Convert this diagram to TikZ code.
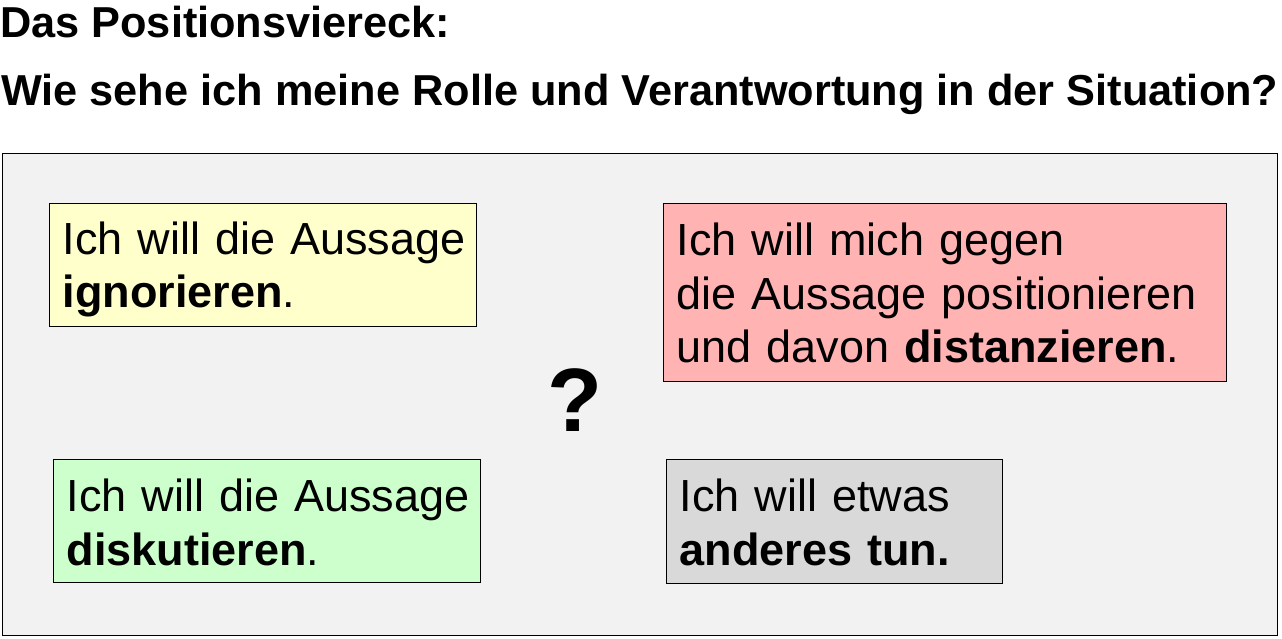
\documentclass[tikz,border=0pt]{standalone}
\usepackage{fontspec}
\setmainfont{Liberation Sans}
\newfontfamily\answerfamily{Liberation Sans}[WordSpace=0.85]
\definecolor{bgGrey}{HTML}{F2F2F2}
\definecolor{ignYellow}{HTML}{FFFFCC}
\definecolor{disRed}{HTML}{FFB3B3}
\definecolor{disGreen}{HTML}{CCFFCC}
\definecolor{othGrey}{HTML}{D9D9D9}
\begin{document}
\begin{tikzpicture}[x=1pt,y=-1pt,
    heading/.style={anchor=base west,inner sep=0pt,font=\fontsize{43.3}{52}\selectfont\bfseries},
    answer/.style={draw,line width=1.3pt,anchor=north west,
        inner xsep=13pt,inner ysep=0pt,font=\answerfamily\fontsize{45}{53.5}\selectfont}]
            \useasboundingbox (0,0) rectangle (1282,638);
            \node[heading] (title) at (0,37) {Das Positionsviereck:};
            \node[heading] (question) at (1,105) {Wie sehe ich meine Rolle und Verantwortung in der Situation?};
            \node[draw,fill=bgGrey,line width=1pt,anchor=north west,inner sep=0pt,
                minimum width=1275pt,minimum height=482pt] (frame) at (2,153) {};
            \node[answer,fill=ignYellow,text width=401pt,text height=50.5pt,text depth=72.5pt] (ignore) at (49,203)
                {\mbox{Ich will die Aussage}\\\textbf{ignorieren}.};
            \node[answer,fill=disRed,text width=537pt,text height=52pt,text depth=126pt] (distance) at (663,203)
                {\mbox{Ich will mich gegen}\\\mbox{die Aussage positionieren}\\und davon \textbf{distanzieren}.};
            \node[answer,fill=disGreen,text width=401pt,text height=52pt,text depth=71pt] (discuss) at (53,459)
                {\mbox{Ich will die Aussage}\\\textbf{diskutieren}.};
            \node[answer,fill=othGrey,text width=310pt,text height=52pt,text depth=72pt] (other) at (666,459)
                {Ich will etwas\\\textbf{anderes tun.}};
            \node[anchor=base,inner sep=0pt,font=\fontsize{90}{100}\selectfont\bfseries] (ask) at (575,431) {?};
        \end{tikzpicture}
\end{document}
